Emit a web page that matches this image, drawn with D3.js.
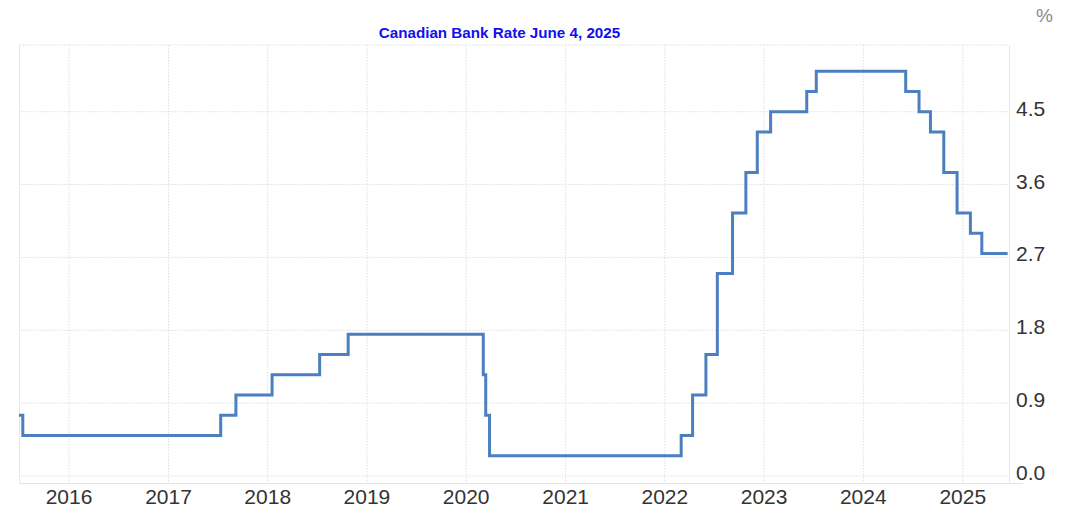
<!DOCTYPE html>
<html lang="en"><head><meta charset="utf-8">
<script src="https://d3js.org/d3.v7.min.js"></script>
<style>
  body { margin: 0; background: #fff; font-family: Arial, "Liberation Sans", sans-serif; }
  .grid line { stroke: #d9e0e5; stroke-dasharray: 1.5,1.5; }
  .tick-label { fill: #333; font-size: 21px; }
</style>
</head><body>
<div id="chart"></div>
<script>
// step changes (date of change, rate after change)
const changeDates = ["2015-07-01","2015-07-15","2017-07-12","2017-09-06","2018-01-17","2018-07-11","2018-10-24",
  "2020-03-04","2020-03-13","2020-03-27","2022-03-02","2022-04-13","2022-06-01","2022-07-13","2022-09-07",
  "2022-10-26","2022-12-07","2023-01-25","2023-06-07","2023-07-12","2024-06-05","2024-07-24","2024-09-04",
  "2024-10-23","2024-12-11","2025-01-29","2025-03-12","2025-06-15"];
const rates = [0.75,0.5,0.75,1.0,1.25,1.5,1.75,1.25,0.75,0.25,0.5,1.0,1.5,2.5,3.25,3.75,4.25,4.5,4.75,5.0,
  4.75,4.5,4.25,3.75,3.25,3.0,2.75,2.75];
const yearTicks = ["2016","2017","2018","2019","2020","2021","2022","2023","2024","2025"];
const rateTicks = [0, 0.9, 1.8, 2.7, 3.6, 4.5];
const title = "Canadian Bank Rate June 4, 2025";

const width = 1070, height = 527;
const m = { left: 19, right: 1009, top: 45, bottom: 483 };

const parse = d3.timeParse("%Y-%m-%d");
const data = changeDates.map((d, i) => ({ date: parse(d), value: rates[i] }));

const svg = d3.select("#chart").append("svg")
  .attr("width", width).attr("height", height);

const x = d3.scaleTime()
  .domain([parse("2015-07-01"), parse("2025-06-20")])
  .range([m.left, m.right]);

const y = d3.scaleLinear()
  .domain([-0.0865, 5.324])
  .range([m.bottom, m.top]);

// grid
const grid = svg.append("g").attr("class", "grid");
grid.selectAll(".vx").data(yearTicks).join("line")
  .attr("x1", d => x(parse(d + "-01-01"))).attr("x2", d => x(parse(d + "-01-01")))
  .attr("y1", m.top).attr("y2", m.bottom);
grid.selectAll(".hy").data(rateTicks.concat([5.324])).join("line")
  .attr("x1", m.left).attr("x2", m.right)
  .attr("y1", d => y(d)).attr("y2", d => y(d));

// frame
svg.append("line").attr("x1", m.left + 0.5).attr("x2", m.left + 0.5).attr("y1", m.top).attr("y2", m.bottom)
  .attr("stroke", "#e6e9ec");
svg.append("line").attr("x1", m.right + 0.5).attr("x2", m.right + 0.5).attr("y1", m.top).attr("y2", m.bottom)
  .attr("stroke", "#e3e6e9");
svg.append("line").attr("x1", m.left).attr("x2", 1023).attr("y1", m.bottom + 0.5).attr("y2", m.bottom + 0.5)
  .attr("stroke", "#e3e6e9");

// x labels
svg.append("g").selectAll("text").data(yearTicks).join("text")
  .attr("class", "tick-label")
  .attr("x", d => x(parse(d + "-01-01")))
  .attr("y", 504)
  .attr("text-anchor", "middle")
  .text(d => d);

// y labels
svg.append("g").selectAll("text").data(rateTicks).join("text")
  .attr("class", "tick-label")
  .attr("x", 1016)
  .attr("y", d => y(d) + 4)
  .text(d => d3.format(".1f")(d));

svg.append("text").attr("x", 1036).attr("y", 22)
  .attr("fill", "#8a8a8a").style("font-size", "19px").text("%");

svg.append("text").attr("x", 499.5).attr("y", 38)
  .attr("text-anchor", "middle")
  .attr("fill", "#1010f0")
  .style("font-size", "15.2px").style("font-weight", "bold")
  .text(title);

// line
const line = d3.line()
  .x(d => x(d.date))
  .y(d => y(d.value))
  .curve(d3.curveStepAfter);

svg.append("path").datum(data)
  .attr("fill", "none")
  .attr("stroke", "#4b7fc0")
  .attr("stroke-width", 3)
  .attr("d", line);
</script>
</body></html>
